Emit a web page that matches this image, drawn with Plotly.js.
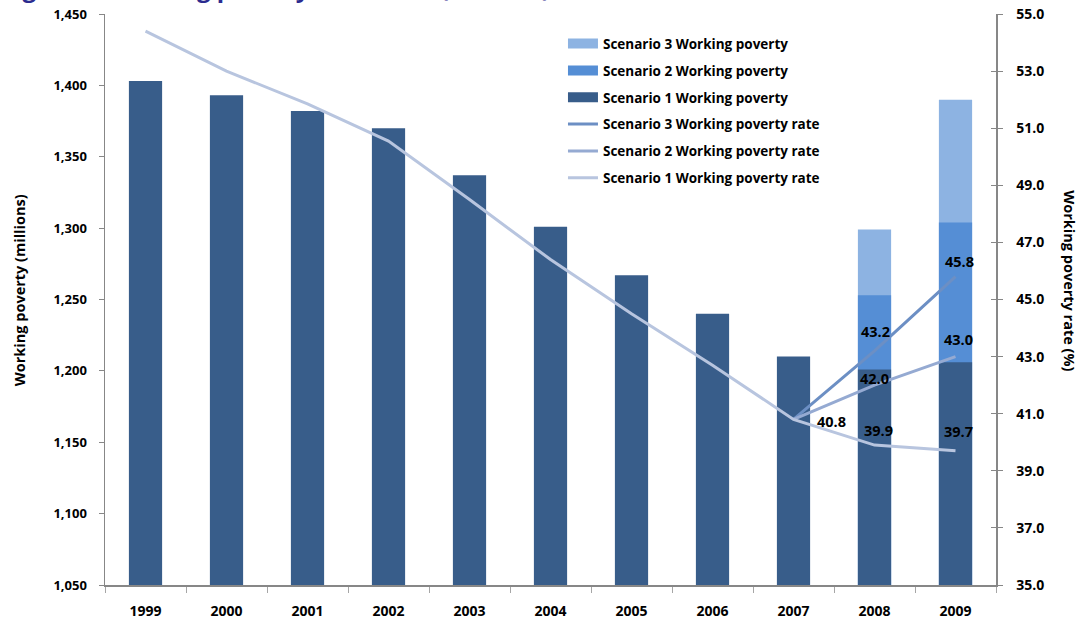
<!DOCTYPE html>
<html><head><meta charset="utf-8">
<script src="https://cdn.plot.ly/plotly-3.0.1.min.js"></script>
<style>html,body{margin:0;padding:0;background:#fff}#chart{width:1079px;height:621px}</style>
</head><body><div id="chart"></div>
<script>
const years = ['1999','2000','2001','2002','2003','2004','2005','2006','2007','2008','2009'];
const wp_s1 = [1403, 1393, 1382, 1370, 1337, 1301, 1267, 1240, 1210, 1201, 1206];
const wp_s2 = [null, null, null, null, null, null, null, null, null, 1253, 1304];
const wp_s3 = [null, null, null, null, null, null, null, null, null, 1299, 1390];
const rate_s1 = [54.4, 53.0, 51.85, 50.55, 48.5, 46.4, 44.5, 42.7, 40.8, 39.9, 39.7];
const rate_s2 = [null, null, null, null, null, null, null, null, 40.8, 42.0, 43.0];
const rate_s3 = [null, null, null, null, null, null, null, null, 40.8, 43.2, 45.8];
const labelled = {s1: ['2007','2008','2009'], s2: ['2008','2009'], s3: ['2008','2009']};
const leftTicks = [1050,1100,1150,1200,1250,1300,1350,1400,1450];
const rightTicks = [35,37,39,41,43,45,47,49,51,53,55];

const FONT = '"Open Sans", sans-serif';
const COL = {b3:'#8db3e2', b2:'#558ed5', b1:'#385d8a', l3:'#6c8fc4', l2:'#95aad2', l1:'#b8c5df'};

// label offsets (pixels) relative to the data point: style only
const shifts = {
  s1: {'2007':[38,-2], '2008':[4,15], '2009':[3,19]},
  s2: {'2008':[0,7], '2009':[3,17]},
  s3: {'2008':[1,19], '2009':[4,15]}
};
const lblFont = {family: FONT, size: 14.5, color: '#000', weight: 'bold'};
const annots = [];
[['s1',rate_s1],['s2',rate_s2],['s3',rate_s3]].forEach(([k,arr])=>{
  years.forEach((y,i)=>{
    if (arr[i]!=null && labelled[k].includes(y)) {
      annots.push({x:i, y:arr[i], xref:'x', yref:'y2', text:arr[i].toFixed(1), showarrow:false,
        xanchor:'center', yanchor:'middle', xshift:shifts[k][y][0], yshift:shifts[k][y][1], font:lblFont});
    }
  });
});

const legendOnly = (name, color, w, grp) => ({type:'scatter', mode:'lines', x:[years[0]], y:[null], name:name,
  line:{color:color, width:w}, legendgroup:grp, hoverinfo:'skip'});

const traces = [
  {type:'bar', x:years, y:wp_s3, name:'Scenario 3 Working poverty', marker:{color:COL.b3}, showlegend:false, hoverinfo:'skip'},
  {type:'bar', x:years, y:wp_s2, name:'Scenario 2 Working poverty', marker:{color:COL.b2}, showlegend:false, hoverinfo:'skip'},
  {type:'bar', x:years, y:wp_s1, name:'Scenario 1 Working poverty', marker:{color:COL.b1}, showlegend:false, hoverinfo:'skip'},
  {type:'scatter', mode:'lines', x:years, y:rate_s3, yaxis:'y2', name:'Scenario 3 Working poverty rate', line:{color:COL.l3, width:3}, showlegend:false, hoverinfo:'skip'},
  {type:'scatter', mode:'lines', x:years, y:rate_s2, yaxis:'y2', name:'Scenario 2 Working poverty rate', line:{color:COL.l2, width:3}, showlegend:false, hoverinfo:'skip'},
  {type:'scatter', mode:'lines', x:years, y:rate_s1, yaxis:'y2', name:'Scenario 1 Working poverty rate', line:{color:COL.l1, width:3}, showlegend:false, hoverinfo:'skip'},
  legendOnly('Scenario 3 Working poverty', COL.b3, 10, 'a'),
  legendOnly('Scenario 2 Working poverty', COL.b2, 10, 'b'),
  legendOnly('Scenario 1 Working poverty', COL.b1, 10, 'c'),
  legendOnly('Scenario 3 Working poverty rate', COL.l3, 3, 'd'),
  legendOnly('Scenario 2 Working poverty rate', COL.l2, 3, 'e'),
  legendOnly('Scenario 1 Working poverty rate', COL.l1, 3, 'f'),
  {type:'scatter', x:[years[0]], y:[null], yaxis:'y3', showlegend:false, hoverinfo:'skip'}
];

const tf = (s) => ({family: FONT, size: s, color:'#000', weight:'bold'});
const layout = {
  width:1079, height:621,
  margin:{l:105, r:83, t:14, b:36, autoexpand:false},
  paper_bgcolor:'#fff', plot_bgcolor:'#fff',
  barmode:'overlay', bargap:0.59,
  showlegend:true,
  legend:{x:0.514, y:0.975, xanchor:'left', yanchor:'top', bgcolor:'rgba(0,0,0,0)', font:tf(13.5), traceorder:'grouped', tracegroupgap:6.3, itemwidth:30},
  xaxis:{type:'category', range:[-0.5, years.length-0.5], autorange:false, automargin:false, showline:true, linecolor:'#878787', linewidth:1.5, ticks:'outside', tickson:'boundaries', ticklen:6, tickcolor:'#a6a6a6', tickfont:tf(14), ticklabelstandoff:13, showgrid:false, zeroline:false},
  yaxis:{range:[1050,1450], automargin:false, tickvals:leftTicks, ticktext:leftTicks.map(v=>v.toLocaleString('en-US')), showline:true, linecolor:'#878787', linewidth:1.5, ticks:'outside', ticklen:5, tickcolor:'#878787', tickfont:tf(13), ticklabelstandoff:9, showgrid:false, zeroline:false},
  yaxis2:{range:[35,55], automargin:false, overlaying:'y', side:'right', tickvals:rightTicks, ticktext:rightTicks.map(v=>v.toFixed(1)), showline:true, linecolor:'#878787', linewidth:1.5, ticks:'outside', ticklen:5, tickcolor:'#878787', tickfont:tf(14), ticklabelstandoff:11, showgrid:false, zeroline:false},
  yaxis3:{range:[35,55], automargin:false, overlaying:'y', side:'right', tickvals:rightTicks, showticklabels:false, showline:false, ticks:'inside', ticklen:5, tickcolor:'#878787', showgrid:false, zeroline:false},
  annotations:[
    {text:'Working poverty (millions)', xref:'paper', yref:'paper', x:-0.096, y:0.517, xanchor:'center', yanchor:'middle', textangle:-90, showarrow:false, font:tf(14.5)},
    {text:'Working poverty rate (%)', xref:'paper', yref:'paper', x:1.083, y:0.532, xanchor:'center', yanchor:'middle', textangle:90, showarrow:false, font:tf(14.5)},
    {text:'Figure 5: Working poverty estimates (US$2, %)', xref:'paper', yref:'paper', x:-0.118, y:1.0135, xanchor:'left', yanchor:'bottom', showarrow:false, font:{family:FONT, size:24, color:'#2b2b8f', weight:'bold'}}
  ].concat(annots)
};
Plotly.newPlot('chart', traces, layout, {displayModeBar:false, staticPlot:true});
</script></body></html>
